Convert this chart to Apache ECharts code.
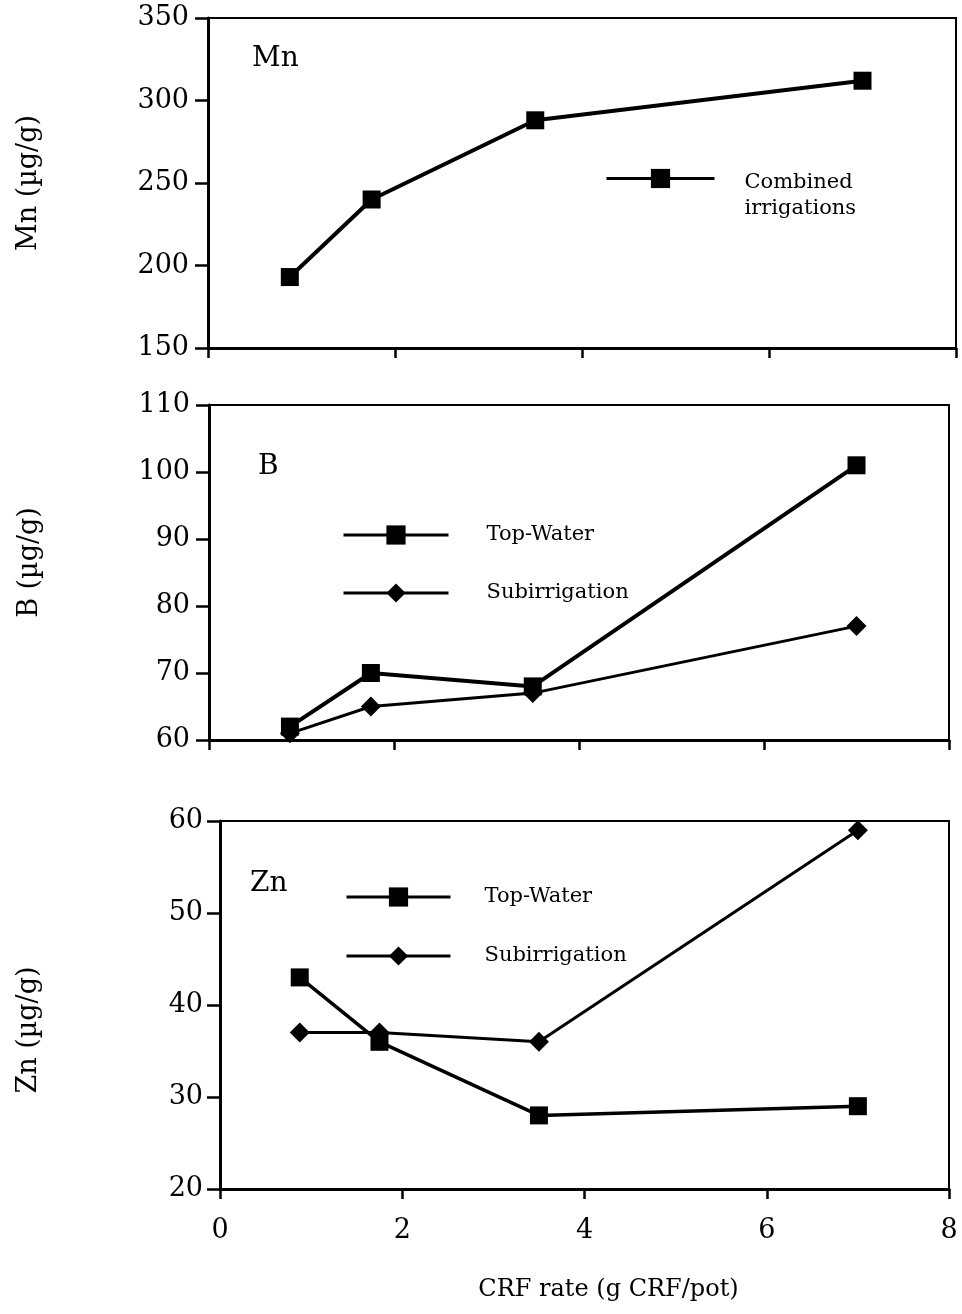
<!DOCTYPE html>
<html>
<head>
<meta charset="utf-8">
<script src="https://cdn.jsdelivr.net/npm/echarts@6/dist/echarts.min.js"></script>
<style>
  html, body { margin: 0; padding: 0; background: #ffffff; }
  #chart { width: 962px; height: 1314px; }
</style>
</head>
<body>
<div id="chart"></div>
<script>
// CRF application rates (g CRF/pot)
const crfRate = [0.875, 1.75, 3.5, 7];

// Tissue micronutrient concentrations (µg/g)
const mnCombined = [193, 240, 288, 312];
const bTopWater = [62, 70, 68, 101];
const bSubirrigation = [61, 65, 67, 77];
const znTopWater = [43, 36, 28, 29];
const znSubirrigation = [37, 37, 36, 59];

// Axis ranges: [min, max, interval]
const xRange = [0, 8, 2];
const mnRange = [150, 350, 50];
const bRange = [60, 110, 10];
const znRange = [20, 60, 10];

const FONT = 'DejaVu Serif';
const BLACK = '#000000';

const pairs = (vals) => vals.map((v, i) => [crfRate[i], v]);

function xAxisFor(gridIndex, showLabels) {
  return {
    type: 'value',
    gridIndex: gridIndex,
    min: xRange[0], max: xRange[1], interval: xRange[2],
    axisLine: { show: true, onZero: false, lineStyle: { color: BLACK, width: 3 } },
    axisTick: { show: true, length: 10, lineStyle: { color: BLACK, width: 2.5 } },
    splitLine: { show: false },
    axisLabel: { show: showLabels, color: BLACK, fontFamily: FONT, fontSize: 27, margin: 28 },
    name: showLabels ? 'CRF rate (g CRF/pot)' : '',
    nameLocation: 'middle',
    nameGap: 89,
    nameTextStyle: { color: BLACK, fontFamily: FONT, fontSize: 24, padding: [0, 0, 0, 48] }
  };
}

function yAxisFor(gridIndex, range, title, gap, labelMargin, namePad) {
  return {
    type: 'value',
    gridIndex: gridIndex,
    min: range[0], max: range[1], interval: range[2],
    axisLine: { show: true, lineStyle: { color: BLACK, width: 3 } },
    axisTick: { show: true, length: 13, lineStyle: { color: BLACK, width: 2.5 } },
    splitLine: { show: false },
    axisLabel: { color: BLACK, fontFamily: FONT, fontSize: 27, margin: labelMargin },
    name: title,
    nameLocation: 'middle',
    nameGap: gap,
    nameTextStyle: { color: BLACK, fontFamily: FONT, fontSize: 27, padding: namePad }
  };
}

function lineSeries(name, gridIndex, vals, symbol, size, width) {
  return {
    type: 'line',
    name: name,
    xAxisIndex: gridIndex,
    yAxisIndex: gridIndex,
    data: pairs(vals),
    symbol: symbol,
    symbolSize: size,
    showAllSymbol: true,
    clip: false,
    itemStyle: { color: BLACK, borderWidth: 0 },
    lineStyle: { color: BLACK, width: width },
    emphasis: { disabled: true },
    z: symbol === 'rect' ? 3 : 2
  };
}

function panelLabel(text, left, top) {
  return {
    text: text, left: left, top: top, padding: 0,
    textStyle: { fontFamily: FONT, fontSize: 28, fontWeight: 'normal', color: BLACK, lineHeight: 28 }
  };
}

const legendText = { fontFamily: FONT, fontSize: 21, color: BLACK };
const legendLine = { color: BLACK, width: 3 };

const option = {
  backgroundColor: '#ffffff',
  animation: false,
  title: [
    panelLabel('Mn', 252, 45),
    panelLabel('B', 258, 453),
    panelLabel('Zn', 250, 870)
  ],
  grid: [
    { left: 208, top: 18, width: 748, height: 330, show: true, borderColor: BLACK, borderWidth: 2, backgroundColor: 'transparent' },
    { left: 209, top: 405, width: 740, height: 335, show: true, borderColor: BLACK, borderWidth: 2, backgroundColor: 'transparent' },
    { left: 220, top: 821, width: 729, height: 368, show: true, borderColor: BLACK, borderWidth: 2, backgroundColor: 'transparent' }
  ],
  xAxis: [xAxisFor(0, false), xAxisFor(1, false), xAxisFor(2, true)],
  yAxis: [
    yAxisFor(0, mnRange, 'Mn (µg/g)', 166, 19, [0, 0, 0, 0]),
    yAxisFor(1, bRange, 'B (µg/g)', 166, 19, [0, 0, 0, 20]),
    yAxisFor(2, znRange, 'Zn (µg/g)', 178, 17, [0, 50, 0, 0])
  ],
  legend: [
    {
      data: ['Combined irrigations'],
      left: 605, top: 152, padding: 0,
      itemWidth: 108, itemHeight: 24,
      selectedMode: false,
      lineStyle: legendLine,
      // two-line label, first line level with the symbol
      formatter: (n) => '{s| }\n{t|' + n.replace(' ', '}\n{t|') + '}',
      textStyle: Object.assign({}, legendText, {
        padding: [0, 0, 0, 25],
        rich: {
          s: { fontSize: 1, lineHeight: 34 },
          t: { fontFamily: FONT, fontSize: 21, lineHeight: 26, color: BLACK }
        }
      })
    },
    {
      data: ['Top-Water', 'Subirrigation'],
      orient: 'vertical',
      left: 342, top: 523, padding: 0,
      itemWidth: 105, itemHeight: 24, itemGap: 34,
      selectedMode: false,
      lineStyle: legendLine,
      textStyle: Object.assign({}, legendText, { lineHeight: 24, padding: [0, 0, 0, 33] })
    },
    {
      data: ['Top-Water', 'Subirrigation'],
      orient: 'vertical',
      left: 345, top: 885, padding: 0,
      itemWidth: 104, itemHeight: 24, itemGap: 35,
      selectedMode: false,
      lineStyle: legendLine,
      textStyle: Object.assign({}, legendText, { lineHeight: 24, padding: [0, 0, 0, 29] })
    }
  ],
  series: [
    lineSeries('Combined irrigations', 0, mnCombined, 'rect', 18, 4),
    lineSeries('Top-Water', 1, bTopWater, 'rect', 18, 4),
    lineSeries('Subirrigation', 1, bSubirrigation, 'diamond', 20, 3),
    lineSeries('Top-Water', 2, znTopWater, 'rect', 18, 3.5),
    lineSeries('Subirrigation', 2, znSubirrigation, 'diamond', 20, 3)
  ]
};

const chart = echarts.init(document.getElementById('chart'), null, { renderer: 'canvas' });
chart.setOption(option);
</script>
</body>
</html>
